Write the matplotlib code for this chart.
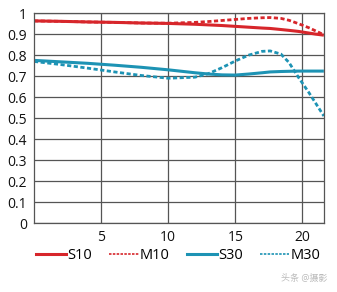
import matplotlib.pyplot as plt
from matplotlib.lines import Line2D

plt.rcParams['font.family'] = ['Open Sans', 'Noto Sans CJK SC', 'DejaVu Sans']

# image height (mm) and MTF values
x_pts = [0, 2, 4, 6, 8, 10, 12, 13, 14, 15, 16, 17, 17.6, 18.4, 19, 19.7, 20.5, 21, 21.6]
s10 = [0.963, 0.961, 0.958, 0.956, 0.953, 0.951, 0.947, 0.944, 0.941, 0.937, 0.933, 0.929, 0.927, 0.922, 0.918, 0.913, 0.905, 0.900, 0.895]
m10 = [0.963, 0.961, 0.958, 0.956, 0.953, 0.952, 0.956, 0.960, 0.965, 0.970, 0.975, 0.978, 0.979, 0.975, 0.966, 0.950, 0.930, 0.915, 0.897]
s30 = [0.775, 0.768, 0.761, 0.752, 0.742, 0.730, 0.716, 0.710, 0.706, 0.705, 0.710, 0.716, 0.720, 0.722, 0.723, 0.724, 0.724, 0.724, 0.724]
m30 = [0.770, 0.755, 0.738, 0.720, 0.703, 0.690, 0.695, 0.712, 0.740, 0.772, 0.800, 0.818, 0.820, 0.805, 0.765, 0.695, 0.620, 0.570, 0.510]

labels = ['S10', 'M10', 'S30', 'M30']
red = '#d7262b'
teal = '#1d93b4'

fig = plt.figure(figsize=(3.37, 2.92), dpi=100)
ax = fig.add_axes([0.101, 0.236, 0.86, 0.719])

ax.plot(x_pts, s10, color=red, lw=2.2, solid_capstyle='butt')
ax.plot(x_pts, m10, color=red, lw=2.0, linestyle=(0, (1.5, 0.9)))
ax.plot(x_pts, s30, color=teal, lw=2.2, solid_capstyle='butt')
ax.plot(x_pts, m30, color=teal, lw=2.0, linestyle=(0, (1.5, 0.9)))

ax.set_xlim(0, 21.6)
ax.set_ylim(0, 1)
ax.set_xticks([5, 10, 15, 20])
ax.set_yticks([0, 0.1, 0.2, 0.3, 0.4, 0.5, 0.6, 0.7, 0.8, 0.9, 1])
ax.set_yticklabels(['0', '0.1', '0.2', '0.3', '0.4', '0.5', '0.6', '0.7', '0.8', '0.9', '1'])
ax.grid(True, color='#555555', lw=0.9)
ax.set_axisbelow(True)
ax.tick_params(length=0, labelsize=10, pad=5, colors='#111111')
for s in ax.spines.values():
    s.set_color('#555555')
    s.set_linewidth(0.9)

handles = [
    Line2D([], [], color=red, lw=2.2),
    Line2D([], [], color=red, lw=1.2, linestyle=(0, (1.5, 0.8))),
    Line2D([], [], color=teal, lw=2.2),
    Line2D([], [], color=teal, lw=1.2, linestyle=(0, (1.5, 0.8))),
]
fig.legend(handles, labels, loc='center', bbox_to_anchor=(0.53, 0.125), ncol=4,
           frameon=False, fontsize=10.5, handlelength=2.0, handletextpad=0.1,
           columnspacing=1.2)

fig.text(0.97, 0.045, '头条 @摄影', ha='right', va='center', fontsize=6.5, color='#bbbbbb')

plt.savefig('out.png', dpi=100)
